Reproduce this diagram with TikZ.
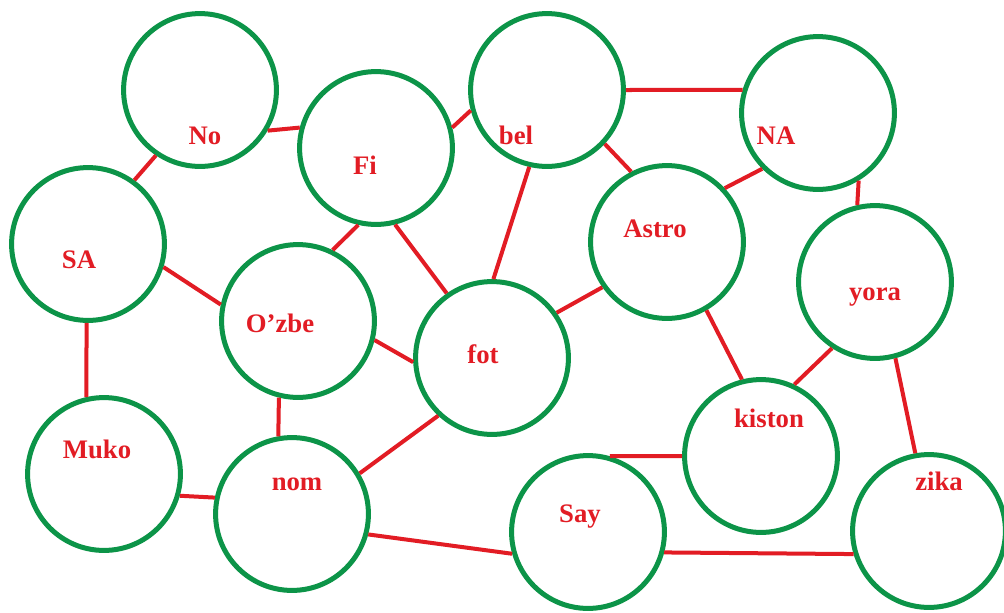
\documentclass[tikz,border=0pt]{standalone}
\usepackage{fontspec}
\setmainfont{Liberation Serif}
\definecolor{cgreen}{RGB}{12,148,72}
\definecolor{cred}{RGB}{226,28,36}
\begin{document}
\begin{tikzpicture}[x=0.025cm,y=-0.025cm,
  ring/.style={circle,draw=cgreen,line width=0.125cm,minimum size=3.82cm,inner sep=0pt},
  lbl/.style={text=cred,font=\fontsize{19}{22}\selectfont\bfseries,anchor=base,inner sep=0pt},
  link/.style={draw=cred,line width=0.1cm}]
\fill[white] (0,0) rectangle (1004,612);
\useasboundingbox (0,0) rectangle (1004,612);
% circles
\node[ring] (No) at (200,90) {};
\node[ring] (Fi) at (376,148) {};
\node[ring] (bel) at (547,90) {};
\node[ring] (NA) at (818,113) {};
\node[ring] (SA) at (88,244) {};
\node[ring] (Astro) at (667,242) {};
\node[ring] (yora) at (875,282) {};
\node[ring] (Ozbe) at (298,321) {};
\node[ring] (fot) at (492,358) {};
\node[ring] (Muko) at (104,474) {};
\node[ring] (nom) at (292,514) {};
\node[ring] (kiston) at (761,456) {};
\node[ring] (Say) at (588,532) {};
\node[ring] (zika) at (929,531) {};
% labels
\node[lbl] (tNo) at (205,144) {No};
\node[lbl] (tFi) at (365,174) {Fi};
\node[lbl] (tSA) at (79,268) {SA};
\node[lbl] (tbel) at (516,144) {bel};
\node[lbl] (tNA) at (776,144) {NA};
\node[lbl] (tAstro) at (655,237) {Astro};
\node[lbl] (tyora) at (875,300) {yora};
\node[lbl] (tOzbe) at (280,332) {O’zbe};
\node[lbl] (tfot) at (483,363) {fot};
\node[lbl] (tMuko) at (97,458) {Muko};
\node[lbl] (tnom) at (297,490) {nom};
\node[lbl] (tkiston) at (769,427) {kiston};
\node[lbl] (tSay) at (580,522) {Say};
\node[lbl] (tzika) at (939,490) {zika};
% connectors
\draw[link] (No.-124) -- (SA.54);
\draw[link] (No.-31) -- (Fi.165);
\draw[link] (Fi.15) -- (bel.195);
\draw[link] (Fi.-103) -- (Ozbe.64);
\draw[link] (Fi.-76) -- (fot.125);
\draw[link] (SA.-17) -- (Ozbe.168);
\draw[link] (bel.0) -- (NA.163);
\draw[link] (bel.-43) -- (Astro.117);
\draw[link] (NA.-135) -- (Astro.43);
\draw[link] (NA.-59) -- (yora.103);
\draw[link] (bel.-103) -- (fot.89);
\draw[link] (Astro.215) -- (fot.35);
\draw[link] (Ozbe.-14) -- (fot.183);
\draw[link] (SA.-91) -- (Muko.103);
\draw[link] (Ozbe.-104) -- (nom.100);
\draw[link] (fot.-133) -- (nom.31);
\draw[link] (Muko.-16) -- (nom.168);
\draw[link] (nom.-15) -- (Say.196);
\draw[link] (Astro.-60) -- (kiston.104);
\draw[link] (yora.-123) -- (kiston.65);
\draw[link] (yora.-75) -- (zika.100);
\draw[link] (Say.74) -- (kiston.180);
\draw[link] (Say.-15) -- (zika.197);
\end{tikzpicture}
\end{document}
